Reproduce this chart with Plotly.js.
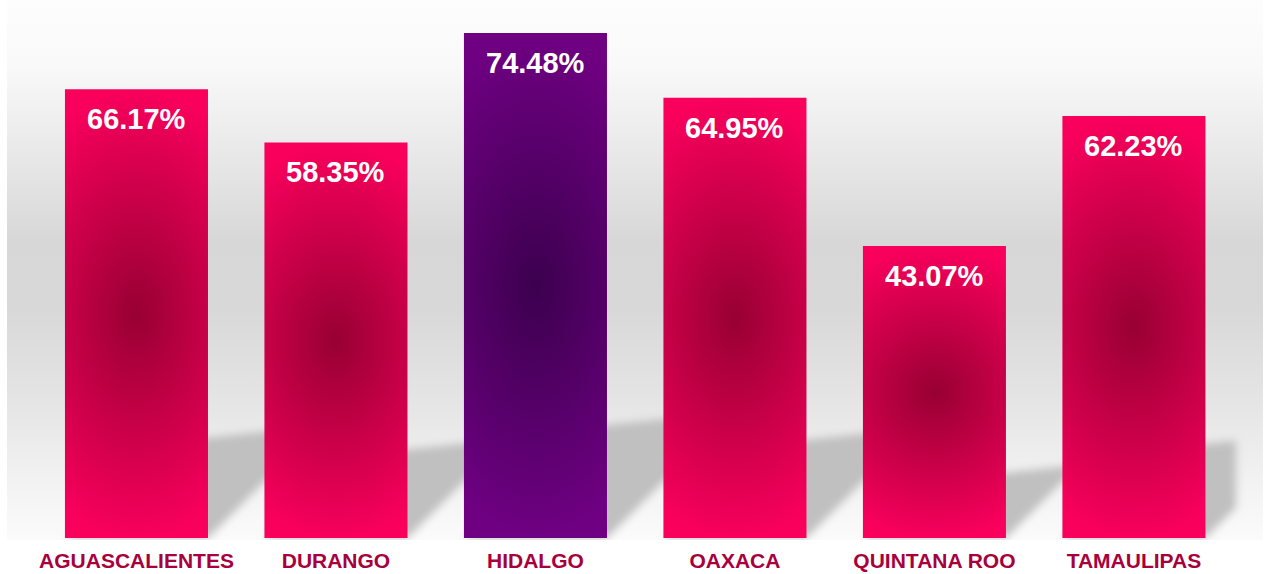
<!DOCTYPE html>
<html><head><meta charset="utf-8">
<script src="https://cdn.plot.ly/plotly-3.0.1.min.js"></script>
<style>html,body{margin:0;padding:0;background:#fff}#chart{width:1265px;height:574px}</style>
</head><body><div id="chart"></div>
<script>
// ---- data ----
const states = ['AGUASCALIENTES', 'DURANGO', 'HIDALGO', 'OAXACA', 'QUINTANA ROO', 'TAMAULIPAS'];
const values = [66.17, 58.35, 74.48, 64.95, 43.07, 62.23];
const valueLabels = ['66.17%', '58.35%', '74.48%', '64.95%', '43.07%', '62.23%'];
const highlighted = [false, false, true, false, false, false];

// ---- layout constants ----
const BAR_W = 0.717;
const X_RANGE = [-0.649, 5.647];
const Y_RANGE = [-0.295, 79.35];
const PX_PER_CAT = 199.5, PX_PER_UNIT = 6.78;
const SHADOW_FRAC = 0.25, SHADOW_TILT = 15 / PX_PER_UNIT, SHADOW_CLIP = 5.511;
const FONT = 'Liberation Sans, Arial, sans-serif';

const xs = states.map((s, i) => i);

function clipPoly(pts, cx) {
  const out = [];
  for (let i = 0; i < pts.length; i++) {
    const a = pts[i], b = pts[(i + 1) % pts.length];
    const ain = a[0] <= cx, bin = b[0] <= cx;
    if (ain) out.push(a);
    if (ain !== bin) {
      const t = (cx - a[0]) / (b[0] - a[0]);
      out.push([cx, a[1] + t * (b[1] - a[1])]);
    }
  }
  return out;
}

const shapes = values.map((v, i) => {
  const x0 = xs[i] - BAR_W / 2, x1 = xs[i] + BAR_W / 2;
  const top = SHADOW_FRAC * v;
  const dx = top * PX_PER_UNIT / PX_PER_CAT;
  let pts = [[x0, 0], [x1, 0], [x1 + dx, top], [x0 + dx, top - SHADOW_TILT]];
  pts = clipPoly(pts, SHADOW_CLIP);
  const path = 'M' + pts.map(p => p[0] + ',' + p[1]).join('L') + 'Z';
  return {type: 'path', path: path, xref: 'x', yref: 'y', layer: 'below',
          fillcolor: '#C0C0C0', line: {width: 0}};
});

const trace = {
  type: 'bar', x: xs, y: values, width: BAR_W,
  marker: {color: highlighted.map(h => h ? '#5A0070' : '#D6004C'), line: {width: 0}},
  hoverinfo: 'none', textposition: 'none'
};

const annotations = values.map((v, i) => ({
  x: xs[i], y: v, xref: 'x', yref: 'y', text: '<b>' + valueLabels[i] + '</b>',
  showarrow: false, yanchor: 'top', xanchor: 'center', yshift: -12,
  font: {family: FONT, size: 29, color: '#FFFFFF'}
}));

const layout = {
  width: 1265, height: 574,
  margin: {l: 7, r: 2, t: 0, b: 34, pad: 0},
  paper_bgcolor: '#FFFFFF', plot_bgcolor: '#E0E0E0',
  showlegend: false,
  xaxis: {range: X_RANGE, tickmode: 'array', tickvals: xs, ticktext: states,
          showgrid: false, zeroline: false, showline: false, ticks: '', ticklabelstandoff: 6,
          tickfont: {family: FONT, size: 21, color: '#A8003C', weight: 'bold'}, fixedrange: true},
  yaxis: {range: Y_RANGE, visible: false, showgrid: false, zeroline: false, fixedrange: true},
  shapes: shapes, annotations: annotations
};

const gd = document.getElementById('chart');
Plotly.newPlot(gd, [trace], layout, {staticPlot: true, displayModeBar: false}).then(() => {
  const svg = gd.querySelector('svg.main-svg');
  const NS = 'http://www.w3.org/2000/svg';
  let defs = svg.querySelector('defs');
  if (!defs) { defs = document.createElementNS(NS, 'defs'); svg.insertBefore(defs, svg.firstChild); }
  function grad(tag, id, attrs, stops) {
    const g = document.createElementNS(NS, tag);
    g.setAttribute('id', id);
    for (const k in attrs) g.setAttribute(k, attrs[k]);
    stops.forEach(s => {
      const st = document.createElementNS(NS, 'stop');
      st.setAttribute('offset', s[0]); st.setAttribute('stop-color', s[1]);
      g.appendChild(st);
    });
    defs.appendChild(g);
  }
  grad('linearGradient', 'bgGrad', {x1: 0, y1: 0, x2: 0, y2: 1},
    [[0, '#FDFDFD'], [0.12, '#F9F9F9'], [0.27, '#EAEAEA'], [0.45, '#D7D7D7'],
     [0.57, '#D8D8D8'], [0.72, '#E3E3E3'], [0.87, '#F0F0F0'], [1, '#FBFBFB']]);
  const rt = {cx: 0.5, cy: 0.5, r: 0.5,
    gradientTransform: 'translate(0.5,0.5) scale(2,1) translate(-0.5,-0.5)'};
  grad('radialGradient', 'gRed', rt, [[0, '#980033'], [1, '#F8005C']]);
  grad('radialGradient', 'gPur', rt, [[0, '#3C004F'], [1, '#6F0082']]);
  const f = document.createElementNS(NS, 'filter');
  f.setAttribute('id', 'shBlur');
  f.setAttribute('x', '-0.2'); f.setAttribute('y', '-0.2');
  f.setAttribute('width', '1.4'); f.setAttribute('height', '1.4');
  const fb = document.createElementNS(NS, 'feGaussianBlur');
  fb.setAttribute('stdDeviation', '4');
  f.appendChild(fb); defs.appendChild(f);

  svg.querySelectorAll('rect.bg').forEach(r => { r.style.fill = 'url(#bgGrad)'; });
  gd.querySelectorAll('.barlayer .point path').forEach((p, i) => {
    p.style.fill = highlighted[i] ? 'url(#gPur)' : 'url(#gRed)';
  });
  gd.querySelectorAll('.shapelayer path').forEach(p => {
    p.style.filter = 'url(#shBlur)';
  });
});
</script>
</body></html>
